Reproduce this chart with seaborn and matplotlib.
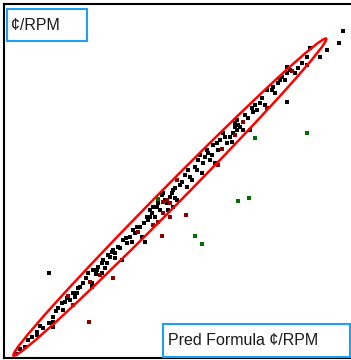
import numpy as np
import pandas as pd
import matplotlib
matplotlib.use("Agg")
import matplotlib.pyplot as plt
from matplotlib.patches import Ellipse, Rectangle
import seaborn as sns

# ---- data ----
black_x = [16, 20, 25, 28, 32, 37, 37, 40, 43, 49, 53, 53, 53, 56, 62, 63, 65, 70, 73, 77,
           75, 78, 80, 83, 88, 92, 92, 93, 97, 98, 102, 102, 103, 105, 107, 108, 110, 113, 115, 115,
           118, 122, 123, 127, 130, 132, 133, 137, 140, 142, 145, 147, 148, 150, 152, 153, 155, 157, 160, 162,
           163, 167, 168, 170, 173, 173, 175, 175, 177, 180, 185, 187, 188, 192, 195, 198, 200, 202, 203, 205,
           207, 208, 210, 213, 215, 217, 218, 220, 223, 227, 230, 232, 233, 235, 235, 237, 237, 238, 243, 245,
           248, 250, 252, 255, 257, 260, 262, 265, 267, 272, 273, 275, 278, 280, 282, 285, 287, 287, 290, 295,
           298, 302, 307, 307, 310,
           58, 67, 86, 96, 112, 120, 126, 135, 144, 150, 158, 165, 172, 182, 190, 197, 212, 225, 240, 253]
black_y = [6, 11, 13, 20, 23, 25, 28, 34, 32, 37, 33, 38, 43, 49, 57, 50, 58, 60, 67, 67,
           63, 72, 73, 77, 87, 77, 73, 90, 90, 93, 97, 87, 100, 92, 97, 105, 103, 110, 107, 102,
           113, 100, 120, 117, 123, 118, 130, 133, 133, 123, 118, 143, 140, 150, 147, 153, 143, 153, 150, 165,
           167, 157, 150, 163, 170, 153, 172, 162, 160, 175, 185, 173, 190, 180, 193, 200, 205, 187, 197, 203,
           210, 207, 200, 215, 197, 217, 210, 220, 227, 217, 223, 218, 227, 237, 233, 230, 240, 235, 230, 245,
           242, 230, 252, 255, 250, 257, 262, 255, 270, 270, 273, 267, 277, 280, 283, 280, 293, 287, 290, 287,
           292, 297, 303, 295, 312,
           52, 62, 82, 86, 108, 112, 122, 127, 137, 143, 157, 160, 167, 178, 183, 190, 205, 223, 233, 248]
black_out_x = [49, 287, 320, 327, 339, 343]
black_out_y = [87, 258, 303, 310, 317, 329]
red_band_x = [68, 73, 90, 100, 138, 153, 163, 163, 167, 170, 177, 222, 235, 243, 267, 292]
red_band_y = [64, 55, 78, 85, 128, 135, 158, 147, 160, 157, 180, 211, 225, 238, 252, 289]
red_out_x = [89, 113, 158, 162, 170, 186, 218]
red_out_y = [38, 82, 138, 124, 143, 145, 195]
green_x = [158, 195, 202, 238, 249, 255, 307]
green_y = [161, 124, 116, 159, 162, 222, 227]

y_label = "¢/RPM"
x_label = "Pred Formula ¢/RPM"

colors = {"black": "#000000", "red": "#8c0000", "green": "#006e00"}

all_x = black_x + black_out_x + red_band_x + red_out_x + green_x
all_y = black_y + black_out_y + red_band_y + red_out_y + green_y
groups = (["black"] * (len(black_x) + len(black_out_x))
          + ["red"] * (len(red_band_x) + len(red_out_x))
          + ["green"] * len(green_x))
df = pd.DataFrame({"x": all_x, "y": all_y, "grp": groups})

W, H = 351, 360
fig = plt.figure(figsize=(W / 100, H / 100), dpi=100)
fig.patch.set_facecolor("white")
ax = fig.add_axes([4 / W, 2 / H, 349 / W, 354 / H])
ax.set_facecolor("white")

sns.scatterplot(data=df, x="x", y="y", hue="grp", palette=colors, marker="s",
                s=12, linewidth=0, legend=False, ax=ax, zorder=3)

# density ellipse from black points + red points lying in the band
cx = np.array(black_x + black_out_x + red_band_x, dtype=float)
cy = np.array(black_y + black_out_y + red_band_y, dtype=float)
cov = np.cov(cx, cy)
vals, vecs = np.linalg.eigh(cov)
order = vals.argsort()[::-1]
vals, vecs = vals[order], vecs[:, order]
k = np.sqrt(-2 * np.log(1 - 0.85))
angle = np.degrees(np.arctan2(vecs[1, 0], vecs[0, 0]))
ell = Ellipse((cx.mean(), cy.mean()), 2 * k * np.sqrt(vals[0]), 2 * k * np.sqrt(vals[1]),
              angle=angle, fill=False, edgecolor="#ff0000", linewidth=1.8, zorder=4)
ax.add_patch(ell)

ax.set_xlim(4, 353)
ax.set_ylim(2, 356)
ax.set_xticks([])
ax.set_yticks([])
ax.set_xlabel("")
ax.set_ylabel("")
for s in ["left", "top", "bottom"]:
    ax.spines[s].set_color("black")
    ax.spines[s].set_linewidth(1.5)
ax.spines["right"].set_visible(False)

box_col = "#1e9ff0"

def label_box(x0, y0, x1, y1, tx, text):
    fig.add_artist(Rectangle((x0 / W, 1 - y1 / H), (x1 - x0) / W, (y1 - y0) / H,
                             transform=fig.transFigure, facecolor="white",
                             edgecolor=box_col, linewidth=1.5, zorder=10))
    fig.text(tx / W, 1 - ((y0 + y1) / 2) / H, text, ha="left", va="center",
             fontsize=11.5, family=["Liberation Sans", "DejaVu Sans"], color="#1a1a1a", zorder=11)

label_box(7, 9, 87, 41, 11, y_label)
label_box(163, 324, 350, 357, 168, x_label)

fig.savefig("out.png", dpi=100, facecolor="white")
